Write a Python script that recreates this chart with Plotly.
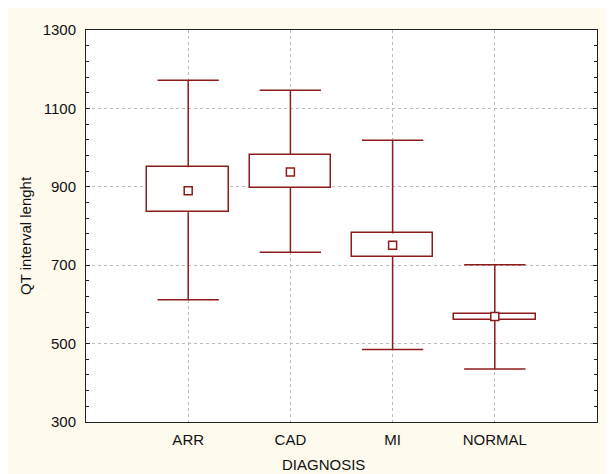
import plotly.graph_objects as go

categories = ["ARR", "CAD", "MI", "NORMAL"]
means = [890, 938, 751, 569]
box_low = [835, 897, 722, 560]
box_high = [950, 981, 781, 576]
whisker_low = [612, 733, 485, 435]
whisker_high = [1172, 1146, 1019, 701]
y_ticks = [300, 500, 700, 900, 1100, 1300]

RED = "#8E1B1B"
CREAM = "#FEFAEE"
FONT = "Liberation Sans, Arial, sans-serif"

W, H = 602, 466
L, R, T, B = 78, 13, 22, 52
PW, PH = W - L - R, H - T - B

xs = list(range(1, len(categories) + 1))

fig = go.Figure()

# boxes
fig.add_trace(go.Bar(
    x=xs, base=box_low, y=[h - l for h, l in zip(box_high, box_low)],
    width=0.8, marker=dict(color="white", line=dict(color=RED, width=1.5)),
    showlegend=False, hoverinfo="skip"))

# whiskers
wx, wy = [], []
for x, lo, hi, bl, bh in zip(xs, whisker_low, whisker_high, box_low, box_high):
    wx += [x, x, None, x, x, None, x - 0.3, x + 0.3, None, x - 0.3, x + 0.3, None]
    wy += [bh, hi, None, bl, lo, None, hi, hi, None, lo, lo, None]
fig.add_trace(go.Scatter(x=wx, y=wy, mode="lines", line=dict(color=RED, width=1.5),
                         showlegend=False, hoverinfo="skip"))

# mean markers
fig.add_trace(go.Scatter(x=xs, y=means, mode="markers",
                         marker=dict(symbol="square", size=8, color="white",
                                     line=dict(color=RED, width=1.5)),
                         showlegend=False))

fig.update_layout(
    width=W, height=H,
    margin=dict(l=L, r=R, t=T, b=B),
    paper_bgcolor=CREAM, plot_bgcolor="white",
    font=dict(family=FONT, size=15, color="#111"),
    bargap=0,
    xaxis=dict(range=[0, 5], tickvals=xs, ticktext=categories, showgrid=True,
               gridcolor="#BBBBBB", griddash="dot", gridwidth=1,
               showline=True, linecolor="#222", linewidth=1, mirror=True,
               ticks="", zeroline=False, ticklabelstandoff=4),
    yaxis=dict(range=[300, 1300], tickvals=y_ticks, showgrid=True,
               gridcolor="#BBBBBB", griddash="dot", gridwidth=1,
               showline=True, linecolor="#222", linewidth=1, mirror="ticks",
               ticks="inside", ticklen=4, tickcolor="#222",
               minor=dict(dtick=40, tick0=300, ticks="inside", ticklen=3, tickcolor="#222", showgrid=False),
               zeroline=False, ticklabelstandoff=6),
    annotations=[
        dict(text="QT interval lenght", xref="paper", yref="paper",
             x=(17 - L) / PW, y=(H - B - 228) / PH, textangle=-90,
             showarrow=False, font=dict(size=15), xanchor="center", yanchor="middle"),
        dict(text="DIAGNOSIS", xref="paper", yref="paper",
             x=(315 - L) / PW, y=(H - B - 456) / PH,
             showarrow=False, font=dict(size=15), xanchor="center", yanchor="middle"),
    ],
)

fig.write_html("out.html")
